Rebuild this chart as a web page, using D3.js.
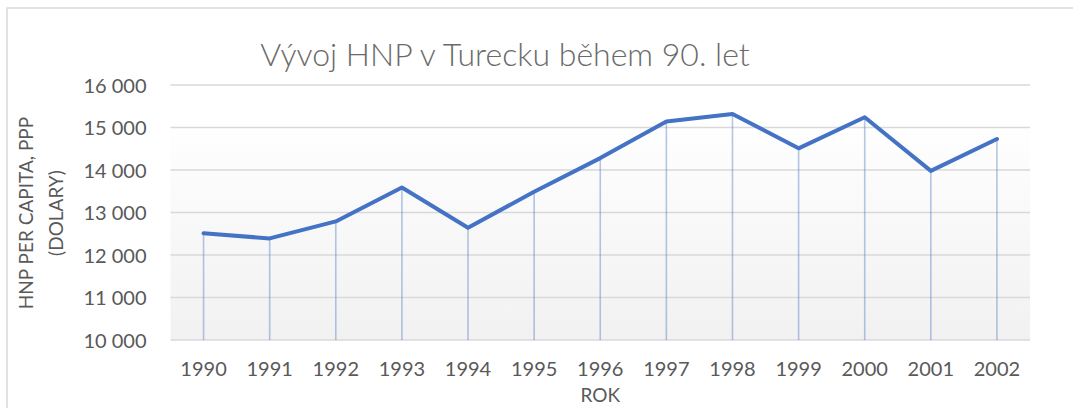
<!DOCTYPE html>
<html><head><meta charset="utf-8">
<script src="https://cdn.jsdelivr.net/npm/d3@7"></script>
<style>
html,body{margin:0;padding:0;background:#fff;}
svg{display:block;}
text{font-family:Lato,"Open Sans",sans-serif;fill:#595959;}
</style></head>
<body>
<svg id="c" width="1073" height="408"></svg>
<script>
const years = ["1990","1991","1992","1993","1994","1995","1996","1997","1998","1999","2000","2001","2002"];
const gnp = [12510,12390,12790,13590,12640,13490,14280,15140,15320,14510,15240,13980,14730];
const yTicks = [10000,11000,12000,13000,14000,15000,16000];
const title = "Vývoj HNP v Turecku během 90. let";
const yTitle = ["HNP PER CAPITA, PPP","(DOLARY)"];
const xTitle = "ROK";

const svg = d3.select("#c");
const L = 170.5, R = 1030, T = 85, B = 340;

// chart border
svg.append("rect").attr("x",7).attr("y",8).attr("width",1080).attr("height",420)
  .attr("fill","#fff").attr("stroke","#d9d9d9").attr("stroke-width",1.5);

const x = d3.scaleBand().domain(years).range([L,R]).padding(0);
const y = d3.scaleLinear().domain([10000,16000]).range([B,T]);

const defs = svg.append("defs");
const g = defs.append("linearGradient").attr("id","pg").attr("x1",0).attr("y1",0).attr("x2",0).attr("y2",1);
g.append("stop").attr("offset","0%").attr("stop-color","#ffffff");
g.append("stop").attr("offset","100%").attr("stop-color","#f1f1f1");
const gTop = y(15220);
svg.append("rect").attr("x",L).attr("y",gTop).attr("width",R-L).attr("height",B-gTop).attr("fill","url(#pg)");

// gridlines
svg.append("g").selectAll("line").data(yTicks).join("line")
  .attr("x1",L).attr("x2",R).attr("y1",d=>y(d)).attr("y2",d=>y(d))
  .attr("stroke","#d9d9d9").attr("stroke-width",1.5);

// y axis labels
const fmt = d => d3.format(",")(d).replace(/,/g,"\u00a0");
const yAxis = d3.axisLeft(y).tickValues(yTicks).tickFormat(fmt).tickSize(0).tickPadding(24);
const ya = svg.append("g").attr("transform",`translate(${L},0)`).call(yAxis);
ya.select(".domain").remove();
ya.selectAll("text").attr("font-size",20).attr("fill","#595959")
  .style("font-family","Lato,'Open Sans',sans-serif").attr("dy","0.35em");

// x axis labels
const xAxis = d3.axisBottom(x).tickSize(0).tickPadding(22);
const xa = svg.append("g").attr("transform",`translate(0,${B})`).call(xAxis);
xa.select(".domain").remove();
xa.selectAll("text").attr("font-size",20).attr("fill","#595959")
  .style("font-family","Lato,'Open Sans',sans-serif");

// drop lines
const cx = d => x(d) + x.bandwidth()/2;
svg.append("g").selectAll("line").data(years).join("line")
  .attr("x1",d=>cx(d)).attr("x2",d=>cx(d))
  .attr("y1",(d,i)=>y(gnp[i])).attr("y2",B)
  .attr("stroke","#4472c4").attr("stroke-opacity",0.4).attr("stroke-width",1.6);

// line
const line = d3.line().x((d,i)=>cx(years[i])).y(d=>y(d));
svg.append("path").datum(gnp).attr("d",line).attr("fill","none")
  .attr("stroke","#4472c4").attr("stroke-width",4).attr("stroke-linejoin","round").attr("stroke-linecap","round");

// titles
svg.append("text").attr("x",505).attr("y",66).attr("text-anchor","middle")
  .attr("font-size",32).attr("font-weight",300).style("fill","#6a6a6a").text(title);

svg.append("text").attr("transform","translate(33,213) rotate(-90)").attr("text-anchor","middle")
  .attr("font-size",19).text(yTitle[0]);
svg.append("text").attr("transform","translate(63,213) rotate(-90)").attr("text-anchor","middle")
  .attr("font-size",19).text(yTitle[1]);

svg.append("text").attr("x",(L+R)/2).attr("y",402).attr("text-anchor","middle")
  .attr("font-size",19).text(xTitle);
</script>
</body></html>
